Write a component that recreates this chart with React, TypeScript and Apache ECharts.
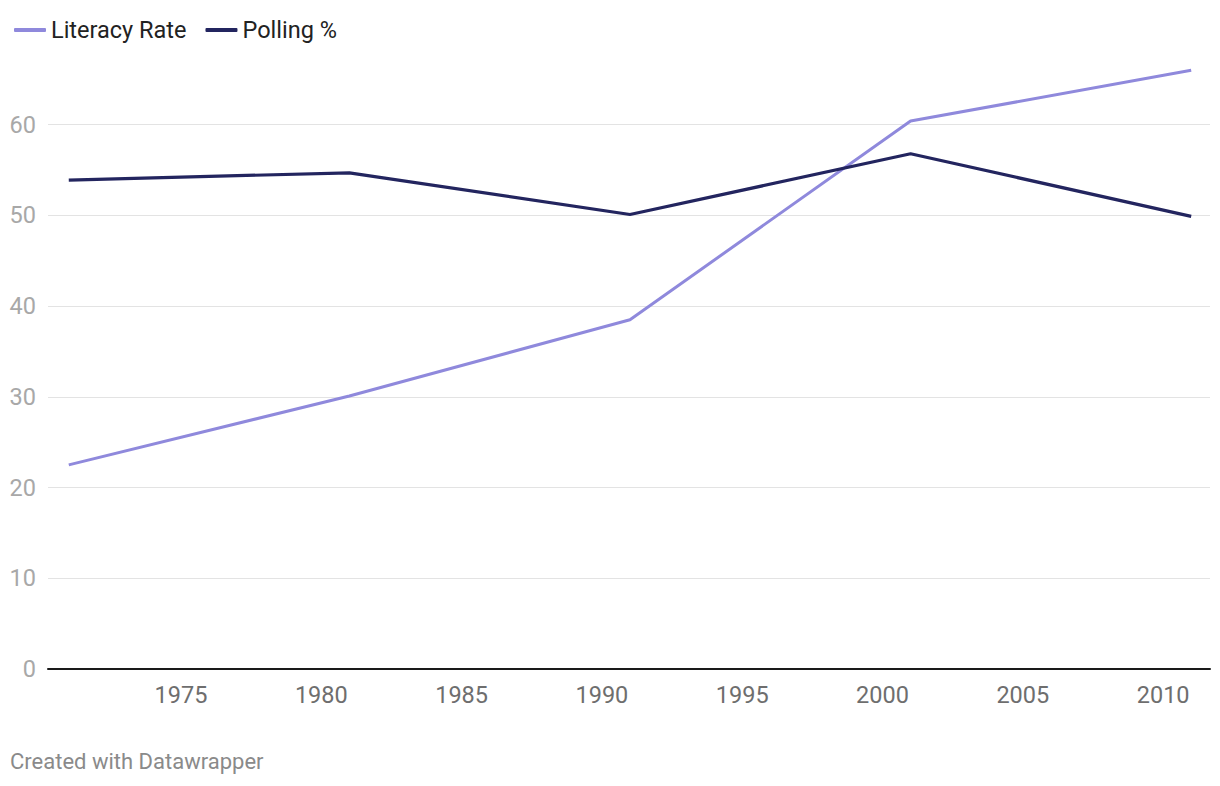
import React, { useEffect, useRef } from "react";
import * as echarts from "echarts";

const years = [1971, 1981, 1991, 2001, 2011];
const literacyRate = [22.5, 30.1, 38.5, 60.4, 66.0];
const pollingPct = [53.9, 54.7, 50.1, 56.8, 49.9];
const seriesNames = ["Literacy Rate", "Polling %"];
const footer = "Created with Datawrapper";

export default function App() {
  const ref = useRef<HTMLDivElement>(null);
  useEffect(() => {
    if (!ref.current) return;
    const chart = echarts.init(ref.current, null, { renderer: "svg" });
    const font = "Roboto, 'Noto Sans', sans-serif";
    chart.setOption({
      animation: false,
      backgroundColor: "#ffffff",
      textStyle: { fontFamily: font },
      legend: {
        left: 9,
        top: 13,
        itemWidth: 32,
        itemHeight: 4,
        itemGap: 19,
        icon: "roundRect",
        textStyle: { fontSize: 23.5, color: "#222222", fontFamily: font },
        data: seriesNames,
      },
      graphic: [
        {
          type: "text",
          left: 10,
          top: 750,
          style: { text: footer, fontSize: 22, fill: "#8a8a8a", fontFamily: font },
        },
      ],
      grid: { left: 48, right: 10, top: 34, bottom: 117, containLabel: false },
      xAxis: {
        type: "value",
        min: 1970.26,
        max: 2011.67,
        minInterval: 5,
        maxInterval: 5,
        axisLine: { show: true, lineStyle: { color: "#1a1a1a", width: 2 } },
        axisTick: { show: false },
        splitLine: { show: false },
        axisLabel: {
          showMinLabel: false,
          showMaxLabel: false,
          color: "#6e6e6e",
          fontSize: 23.5,
          margin: 14,
          fontFamily: font,
          formatter: (v: number) => (Math.abs(v % 5) < 1e-6 ? String(v) : ""),
        },
      },
      yAxis: {
        type: "value",
        min: 0,
        max: 70,
        interval: 10,
        axisLine: { show: false },
        axisTick: { show: false },
        axisLabel: {
          showMaxLabel: false,
          color: "#a8a8a8",
          fontSize: 23.5,
          margin: 12,
          fontFamily: font,
        },
        splitLine: {
          show: true,
          showMinLine: false,
          showMaxLine: false,
          lineStyle: { color: "#e3e3e3", width: 1 },
        },
      },
      series: [
        {
          name: seriesNames[0],
          type: "line",
          data: years.map((y, i) => [y, literacyRate[i]]),
          symbol: "none",
          lineStyle: { color: "#8f89dc", width: 3 },
          itemStyle: { color: "#8f89dc" },
          z: 3,
        },
        {
          name: seriesNames[1],
          type: "line",
          data: years.map((y, i) => [y, pollingPct[i]]),
          symbol: "none",
          lineStyle: { color: "#23255f", width: 3.2 },
          itemStyle: { color: "#23255f" },
          z: 4,
        },
      ],
    });
    return () => chart.dispose();
  }, []);
  return <div ref={ref} style={{ width: 1220, height: 786, position: "absolute", left: 0, top: 0 }} />;
}
